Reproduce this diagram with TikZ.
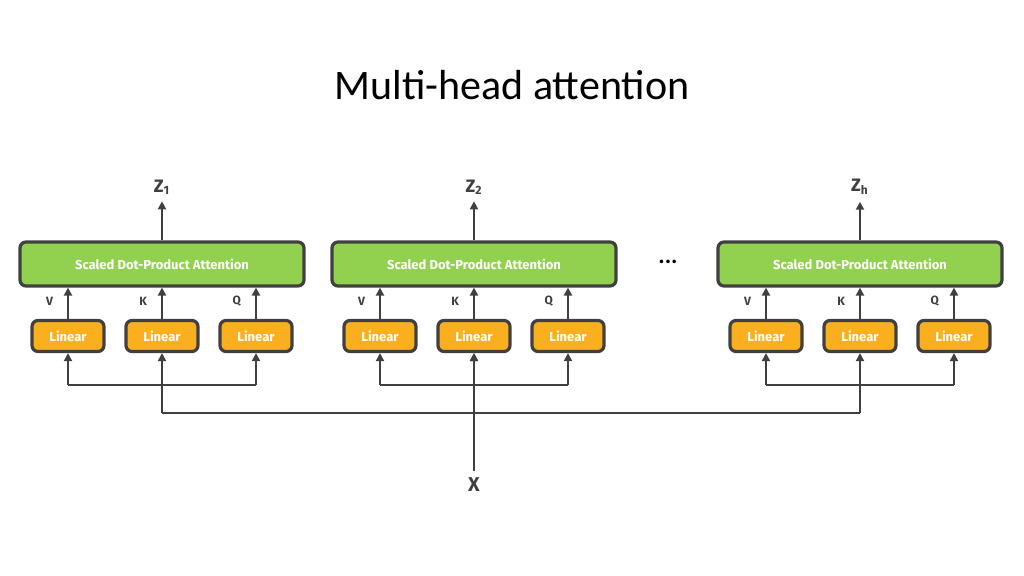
\documentclass[tikz,border=0pt]{standalone}
\usepackage{fontspec}
\setmainfont{Carlito}
\newfontfamily\boxfont{Fira Sans}
\usetikzlibrary{positioning,arrows.meta}
\definecolor{attgreen}{RGB}{146,208,80}
\definecolor{linorange}{RGB}{250,176,30}
\definecolor{edgegray}{RGB}{64,64,64}
\begin{document}
\begin{tikzpicture}[x=0.5pt,y=-0.5pt,
  att/.style={draw=edgegray,line width=1.6pt,fill=attgreen,rounded corners=3pt,
    minimum width=142pt,minimum height=22pt,text=white,font=\boxfont\bfseries\fontsize{6.5}{7}\selectfont},
  lin/.style={draw=edgegray,line width=1.6pt,fill=linorange,rounded corners=3pt,
    minimum width=36pt,minimum height=15.5pt,text=white,font=\boxfont\bfseries\fontsize{6.5}{7}\selectfont},
  lbl/.style={text=edgegray,font=\boxfont\bfseries\fontsize{6}{7}\selectfont},
  wire/.style={draw=edgegray,line width=1.2pt},
  arr/.style={wire,-{Triangle[length=4pt,width=4pt]}}]
  \useasboundingbox (0,0) rectangle (1024,576);

  % title
  \node (title) at (512,85) {\fontsize{21}{24}\selectfont Multi-head attention};

  % heads
  \foreach \hd/\ox/\sub in {a/0/1,b/312/2,c/698/h}{
    \node[att] (att\hd) at (162+\ox,264) {Scaled Dot-Product Attention};
    \node[lin] (v\hd) at (68+\ox,336) {Linear};
    \node[lin] (k\hd) at (162+\ox,336) {Linear};
    \node[lin] (q\hd) at (256+\ox,336) {Linear};
    \node[lbl] (z\hd) at (162+\ox,187) {\fontsize{9}{10}\selectfont Z\textsubscript{\sub}};
    \draw[arr] (att\hd.north) -- (z\hd.south);
    \foreach \m/\t in {v/V,k/K,q/Q}{
      \draw[arr] (\m\hd.north) -- (\m\hd.north |- att\hd.south);
      \node[lbl,anchor=east] at ([xshift=-4pt,yshift=9pt]\m\hd.north) {\t};
    }
    \coordinate (fv\hd) at (68+\ox,385);
    \coordinate (fq\hd) at (256+\ox,385);
    \coordinate (fk\hd) at (162+\ox,413);
    \draw[wire] (fv\hd) -- (fq\hd);
    \draw[arr] (fv\hd) -- (v\hd.south);
    \draw[arr] (fq\hd) -- (q\hd.south);
    \draw[arr] (fk\hd) -- (k\hd.south);
  }

  % input
  \node[lbl] (x) at (474,485) {\fontsize{10}{11}\selectfont X};
  \draw[wire] (fka) -- (fkc);
  \draw[arr] (x.north) -- (kb.south);
  \node (dots) at (668,262) {\fontsize{12}{12}\selectfont\bfseries ...};
\end{tikzpicture}
\end{document}
